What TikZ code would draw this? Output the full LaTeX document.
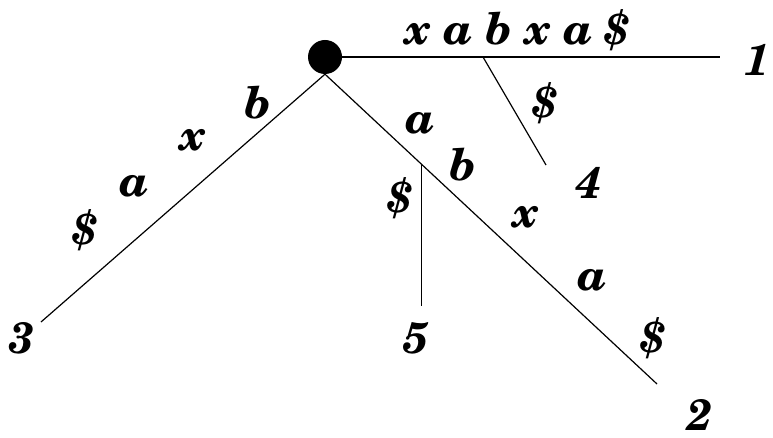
\documentclass[tikz,border=0pt]{standalone}
\usepackage{fontspec}
\newfontfamily\schola{TeX Gyre Schola}
\usepackage{tikz}
\usetikzlibrary{positioning,calc}

\begin{document}
\begin{tikzpicture}[
		x=1pt, y=-1pt,
		lbl/.style={font=\schola\fontsize{44}{48}\selectfont\bfseries\itshape, inner sep=0pt},
		edge/.style={line width=1.2pt},
		root/.style={circle, fill=black, minimum size=34pt, inner sep=0pt}
		]
		\useasboundingbox (0,0) rectangle (773,438);
		% root and free ends of the edges
		\node[root] (r) at (325,57) {};
		\coordinate (e1) at (720,57);
		\coordinate (e2) at (657,384);
		\coordinate (e3) at (41,322);
		\coordinate (e4) at (546,165);
		\coordinate (e5) at (420,306);
		\coordinate (b4) at (483,57);
		\coordinate (b5) at ($(r.south)!0.29!(e2)$);
		% leaves
		\node[lbl] (n1) at (757,60) {1};
		\node[lbl] (n2) at (700,415) {2};
		\node[lbl] (n3) at (22,338) {3};
		\node[lbl] (n4) at (589,183) {4};
		\node[lbl] (n5) at (416,338) {5};
		% edges
		\draw[edge] (r.east) -- (e1);
		\draw[edge] (r.south) -- (e2);
		\draw[edge] (r.south) -- (e3);
		\draw[edge] (b4) -- (e4);
		\draw[edge] (b5) -- (b5 |- e5);
		% edge labels
		\node[lbl] (t1) at (518,30) {x a b x a \$};
		\node[lbl] (t4) at (545,103) {\$};
		\node[lbl] (t3d) at (85,230) {\$};
		\node[lbl] (t3c) at (134,186) {a};
		\node[lbl] (t3b) at (193,140) {x};
		\node[lbl] (t3a) at (258,103) {b};
		\node[lbl] (t2a) at (420,123) {a};
		\node[lbl] (t2b) at (463,165) {b};
		\node[lbl] (t2c) at (526,217) {x};
		\node[lbl] (t2d) at (592,280) {a};
		\node[lbl] (t2e) at (653,338) {\$};
		\node[lbl] (t5) at (400,198) {\$};
	\end{tikzpicture}
\end{document}
